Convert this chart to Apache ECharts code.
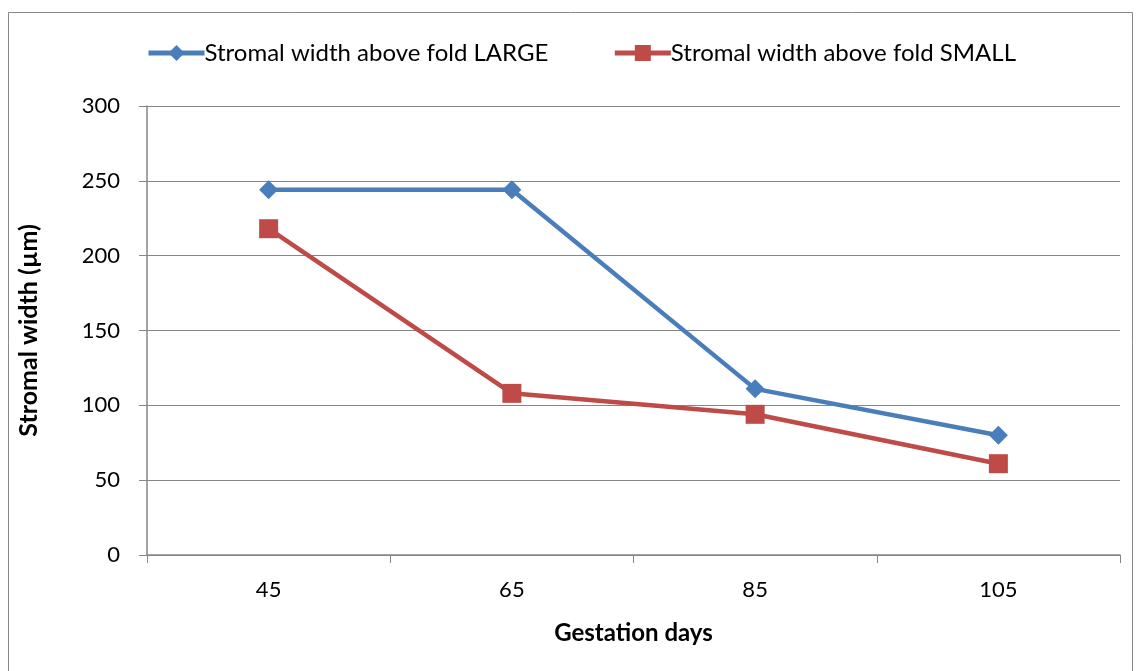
<!DOCTYPE html>
<html><head><meta charset="utf-8">
<script src="https://cdn.jsdelivr.net/npm/echarts@6/dist/echarts.min.js"></script>
<style>html,body{margin:0;padding:0;background:#fff}#c{width:1136px;height:671px}</style>
</head><body><div id="c"></div>
<script>
const categories = ['45', '65', '85', '105'];
const largeValues = [244, 244, 111, 80];
const smallValues = [218, 108, 94, 61];
const seriesNames = ['Stromal width above fold LARGE', 'Stromal width above fold SMALL'];
const xTitle = 'Gestation days';
const yTitle = 'Stromal width (µm)';

const chart = echarts.init(document.getElementById('c'));
const font = 'Lato';
chart.setOption({
  animation: false,
  graphic: [{type: 'rect', shape: {x: 8.5, y: 12.5, width: 1124, height: 680}, style: {fill: 'none', stroke: '#888', lineWidth: 1}}],
  legend: {
    top: 36, left: 141, itemGap: 64, itemWidth: 56, itemHeight: 20,
    textStyle: {fontFamily: font, fontSize: 24, color: '#000', padding: [0,0,0,-5]},
    lineStyle: {width: 5},
    data: [seriesNames[0], seriesNames[1]]
  },
  grid: {left: 147, right: 16, top: 106, bottom: 116, containLabel: false},
  xAxis: {
    type: 'category', data: categories, boundaryGap: true,
    name: xTitle, nameLocation: 'middle', nameGap: 66,
    nameTextStyle: {fontFamily: font, fontSize: 24, fontWeight: 'bold', color: '#000'},
    axisLine: {lineStyle: {color: '#868686', width: 1.5}},
    axisTick: {show: true, length: 8, lineStyle: {color: '#868686'}},
    axisLabel: {fontFamily: font, fontSize: 22, color: '#000', margin: 24}
  },
  yAxis: {
    type: 'value', min: 0, max: 300, interval: 50,
    name: yTitle, nameLocation: 'middle', nameGap: 106, nameRotate: 90,
    nameTextStyle: {fontFamily: font, fontSize: 25, fontWeight: 'bold', color: '#000'},
    axisLine: {show: true, lineStyle: {color: '#868686', width: 1.5}},
    axisTick: {show: true, length: 8, lineStyle: {color: '#868686'}},
    axisLabel: {fontFamily: font, fontSize: 22, color: '#000', margin: 27},
    splitLine: {lineStyle: {color: '#868686', width: 1.2}}
  },
  series: [
    {name: seriesNames[0], type: 'line', data: largeValues, symbol: 'diamond', symbolSize: 19,
     lineStyle: {color: '#4a7ebb', width: 4.5}, itemStyle: {color: '#4a7ebb'}},
    {name: seriesNames[1], type: 'line', data: smallValues, symbol: 'rect', symbolSize: 19,
     lineStyle: {color: '#be4b48', width: 4.5}, itemStyle: {color: '#be4b48'}}
  ]
});
</script></body></html>
